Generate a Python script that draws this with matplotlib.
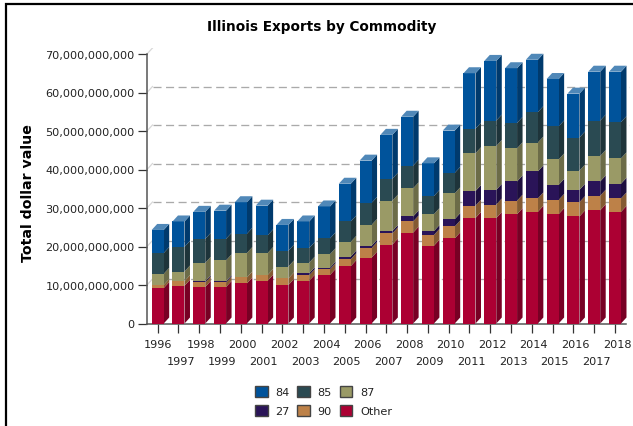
import numpy as np
import matplotlib
matplotlib.use('Agg')
import matplotlib.pyplot as plt
from matplotlib.lines import Line2D
from matplotlib.ticker import FuncFormatter
from matplotlib.transforms import ScaledTranslation

years = list(range(1996, 2019))

# segment sizes in billions of dollars
other = [9.2, 9.8, 9.5, 9.5, 10.4, 11.1, 10.0, 11.1, 12.6, 14.9, 17.1, 20.5, 23.6, 20.2, 22.1, 27.4, 27.4, 28.4, 29.0, 28.4, 27.8, 29.4, 29.0]
hs90 = [0.8, 1.2, 1.15, 1.15, 1.55, 1.5, 1.7, 1.45, 1.5, 1.8, 2.5, 2.9, 2.9, 2.8, 3.1, 3.2, 3.5, 3.5, 3.5, 3.7, 3.7, 3.8, 3.5]
hs27 = [0, 0, 0.35, 0.35, 0, 0, 0, 0.5, 0.4, 0.7, 0.6, 0.6, 1.3, 1.0, 1.9, 3.8, 3.8, 5.0, 7.0, 3.9, 3.2, 3.7, 3.8]
hs87 = [2.9, 2.5, 4.75, 5.4, 6.35, 5.7, 3.1, 2.75, 3.5, 3.8, 5.4, 7.9, 7.3, 4.4, 6.7, 9.8, 11.4, 8.6, 7.5, 6.6, 5.0, 6.6, 6.6]
hs85 = [5.4, 6.4, 6.25, 5.6, 5.0, 4.6, 4.1, 3.8, 4.1, 5.3, 5.7, 5.7, 5.9, 4.7, 5.3, 6.4, 6.6, 6.6, 7.9, 8.6, 8.6, 9.2, 9.4]
hs84 = [6.0, 6.6, 7.0, 7.3, 8.2, 7.7, 6.7, 6.9, 8.3, 9.8, 11.0, 11.4, 12.7, 8.5, 11.0, 14.4, 15.5, 14.2, 13.6, 12.3, 11.4, 12.7, 13.1]

# bottom to top: name, values, front colour, side colour
series = [
    ('Other', other, '#ac0033', '#780024'),
    ('90', hs90, '#bd8148', '#845a32'),
    ('27', hs27, '#2a1458', '#1d0e3e'),
    ('87', hs87, '#9a9a66', '#6c6c48'),
    ('85', hs85, '#2a4a52', '#1e343a'),
    ('84', hs84, '#00539b', '#003a6d'),
]
top_color = '#5088b8'
legend_order = ['84', '27', '85', '90', '87', 'Other']

W, H = 633, 427
px_per_bar = 20.786
px_per_bn = 3.85
dx = 5.5 / px_per_bar
dy = 6 / px_per_bn
bar_w = 12 / px_per_bar
fs = 8.15

fig = plt.figure(figsize=(W / 100, H / 100), dpi=100, facecolor='white')
plt.rcParams['font.family'] = 'DejaVu Sans'

# axes box in pixels
left, right, bottom, top = 147, 630, 324.5, 49
ax = fig.add_axes([left / W, 1 - bottom / H, (right - left) / W, (bottom - top) / H])
ax.set_xlim(-(157.7 - left) / px_per_bar, (right - 157.7) / px_per_bar)
ax.set_ylim(0, (bottom - top) / px_per_bn)
ax.patch.set_visible(False)

x = np.arange(len(years))
x0 = ax.get_xlim()[0]

# back wall grid
for v in range(10, 70, 10):
    ax.plot([x0 + dx, ax.get_xlim()[1]], [v + dy, v + dy], color='#aaaaaa', lw=0.95,
            dashes=(6.1, 3.4), zorder=1)
for v in range(10, 80, 10):
    ax.plot([x0, x0 + dx], [v, v + dy], color='#d8d8d8', lw=0.9, zorder=1)

# stacked bars with fake 3d sides
base = np.zeros(len(years))
for name, vals, front, side in series:
    vals = np.array(vals)
    ax.bar(x, vals, bar_w, bottom=base, color=front, lw=0, zorder=3)
    for xi, b, v in zip(x, base, vals):
        if v > 0:
            xr = xi + bar_w / 2
            ax.fill([xr, xr + dx, xr + dx, xr], [b, b + dy, b + v + dy, b + v],
                    color=side, lw=0, zorder=2.5)
    base = base + vals

for xi, t in zip(x, base):
    xl, xr = xi - bar_w / 2, xi + bar_w / 2
    ax.fill([xl, xr, xr + dx, xl + dx], [t, t, t + dy, t + dy], color=top_color, lw=0, zorder=3)

# axes
for s in ['top', 'right']:
    ax.spines[s].set_visible(False)
ax.spines['left'].set_bounds(0, 70)
ax.spines['bottom'].set_bounds(x0, (626 - 157.7) / px_per_bar)
for s in ['left', 'bottom']:
    ax.spines[s].set_color('#555555')
    ax.spines[s].set_linewidth(1.1)

ax.set_yticks(np.arange(0, 80, 10))
ax.yaxis.set_major_formatter(FuncFormatter(lambda v, p: f'{int(v * 1e9):,}'))
ax.tick_params(axis='y', length=6.5, width=0.9, color='#333333', labelsize=fs, pad=2.5, labelcolor='#222222')

# year labels sit on two rows
ax.set_xticks(x[::2])
ax.set_xticklabels([str(y) for y in years[::2]])
ax.set_xticks(x[1::2], minor=True)
ax.set_xticklabels([str(y) for y in years[1::2]], minor=True)
ax.tick_params(axis='x', which='major', length=6.5, width=0.9, color='#333333', labelsize=fs, pad=4.5, labelcolor='#222222')
ax.tick_params(axis='x', which='minor', length=6.5, width=0.9, color='#333333', labelsize=fs, pad=17.0, labelcolor='#222222')
shift = ScaledTranslation(2 / 100, 0, fig.dpi_scale_trans)
labels = ax.get_xticklabels() + ax.get_xticklabels(minor=True)
for lab in labels[1:]:
    lab.set_transform(lab.get_transform() + shift)

fig.text(321.5 / W, 1 - 27 / H, 'Illinois Exports by Commodity', ha='center', va='center',
         fontsize=9.8, fontweight='bold', color='black')
fig.text(28.5 / W, 1 - 193 / H, 'Total dollar value', rotation=90, ha='center', va='center',
         fontsize=10.2, fontweight='bold', color='black')

# legend
by_name = {s[0]: s[2] for s in series}
handles = [plt.Rectangle((0, 0), 1, 1, facecolor=by_name[n], edgecolor='#444444', lw=1) for n in legend_order]
fig.legend(handles, legend_order, ncol=3, frameon=False, fontsize=fs, loc='center',
           bbox_to_anchor=(323.5 / W, 1 - 402 / H), handlelength=1.12, handleheight=1.12,
           handletextpad=0.68, columnspacing=0.68, labelspacing=0.72, labelcolor='#222222')

# chart frame, only top and left fall inside the picture
fig.add_artist(Line2D([6 / W, 6 / W, 1], [0, 1 - 5.3 / H, 1 - 5.3 / H], color='black', lw=1.6,
                      solid_joinstyle='miter', transform=fig.transFigure))

fig.savefig('out.png', dpi=100)
